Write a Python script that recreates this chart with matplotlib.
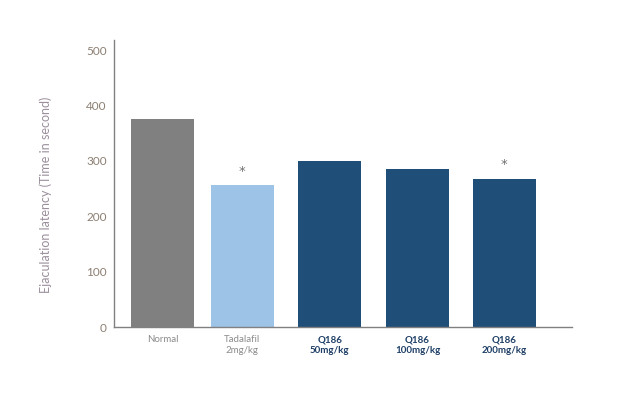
import matplotlib.pyplot as plt

groups = ["Normal", "Tadalafil\n2mg/kg", "Q186\n50mg/kg", "Q186\n100mg/kg", "Q186\n200mg/kg"]
latency = [375, 256, 300, 285, 267]
significant = [False, True, False, False, True]
yticks = [0, 100, 200, 300, 400, 500]

colors = ["#808080", "#9dc3e6", "#1f4e79", "#1f4e79", "#1f4e79"]
xpos = [0, 0.91, 1.91, 2.91, 3.9]

plt.rcParams["font.family"] = ["Lato", "DejaVu Sans"]

fig = plt.figure(figsize=(6.29, 3.98), dpi=100)
ax = fig.add_axes([0.181, 0.178, 0.728, 0.721])

ax.bar(xpos, latency, width=0.72, color=colors)
for x, v, s in zip(xpos, latency, significant):
    if s:
        ax.text(x, v + 14, "*", ha="center", va="bottom", fontsize=9.5,
                color="#707070", family="DejaVu Sans")

ax.set_xlim(-0.555, 4.67)
ax.set_ylim(0, 518)
ax.set_yticks(yticks)
ax.set_xticks(xpos)
ax.set_xticklabels(groups)
ax.tick_params(axis="y", length=0, labelsize=8.5, labelcolor="#8c7f72", pad=5)
ax.tick_params(axis="x", length=0, labelsize=7, pad=6)
for i, lab in enumerate(ax.get_xticklabels()):
    if i < 2:
        lab.set_color("#8c8c8c")
    else:
        lab.set_color("#1f3f66")
        lab.set_fontweight("bold")

ax.set_ylabel("Ejaculation latency (Time in second)", fontsize=9, color="#9b8f9c")
ax.yaxis.set_label_coords(-0.136, 0.46)

for side in ["top", "right"]:
    ax.spines[side].set_visible(False)
for side in ["left", "bottom"]:
    ax.spines[side].set_color("#808080")
    ax.spines[side].set_linewidth(1.0)

fig.savefig("out.png", dpi=100)
